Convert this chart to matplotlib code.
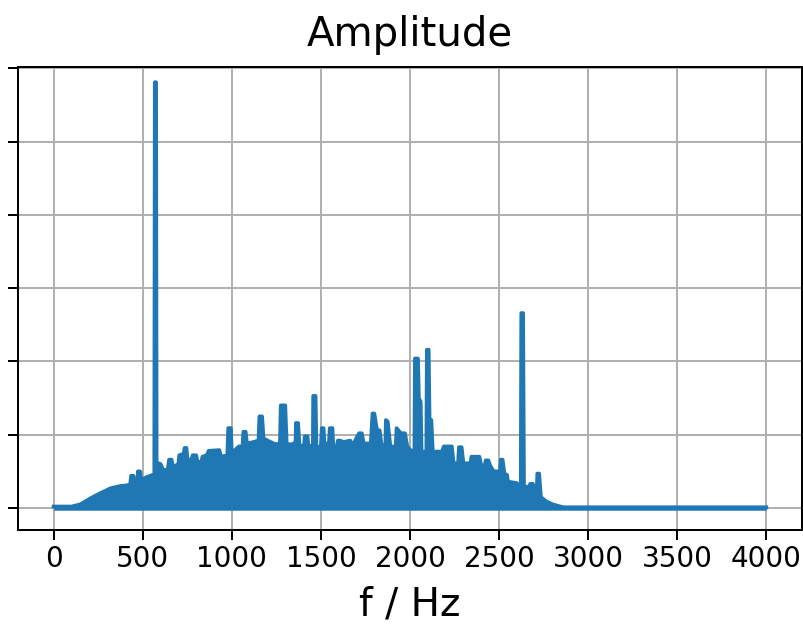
import matplotlib
matplotlib.use("Agg")
import matplotlib.pyplot as plt

# spectrum: frequency (Hz) and amplitude (grid units)
freq = [0, 100, 150, 205, 260, 320, 375, 415, 430, 435, 448, 455, 470, 473,
        485, 492, 520, 555, 565, 568, 575, 578, 600, 615, 640, 648, 662, 670,
        700, 705, 730, 735, 745, 752, 775, 780, 800, 808, 830, 835, 860, 870,
        930, 940, 975, 980, 995, 1000, 1040, 1060, 1065, 1078, 1085, 1120,
        1150, 1155, 1170, 1178, 1210, 1245, 1270, 1275, 1300, 1308, 1340,
        1358, 1360, 1372, 1380, 1405, 1410, 1425, 1430, 1455, 1457, 1470,
        1475, 1500, 1505, 1515, 1520, 1545, 1550, 1565, 1570, 1590, 1595,
        1610, 1625, 1665, 1680, 1700, 1715, 1730, 1740, 1780, 1790, 1800,
        1815, 1830, 1840, 1862, 1865, 1875, 1890, 1920, 1925, 1935, 1950,
        1972, 1985, 2010, 2025, 2028, 2045, 2050, 2060, 2065, 2092, 2095,
        2105, 2110, 2120, 2128, 2180, 2190, 2235, 2245, 2270, 2275, 2290,
        2300, 2340, 2345, 2390, 2400, 2420, 2425, 2440, 2450, 2470, 2505,
        2510, 2520, 2530, 2545, 2550, 2600, 2610, 2622, 2625, 2635, 2640,
        2670, 2675, 2690, 2700, 2712, 2715, 2725, 2735, 2765, 2800, 2860,
        4000]
amp = [0.02, 0.02, 0.05, 0.13, 0.20, 0.27, 0.30, 0.31, 0.33, 0.44, 0.44,
       0.34, 0.36, 0.50, 0.50, 0.38, 0.42, 0.45, 0.46, 5.81, 5.81, 0.62,
       0.60, 0.52, 0.52, 0.66, 0.66, 0.56, 0.60, 0.72, 0.74, 0.82, 0.82,
       0.66, 0.66, 0.72, 0.72, 0.63, 0.63, 0.70, 0.72, 0.78, 0.79, 0.70,
       0.72, 1.09, 1.09, 0.75, 0.84, 0.84, 1.04, 1.04, 0.88, 0.90, 0.92,
       1.25, 1.25, 0.95, 0.91, 0.87, 0.88, 1.40, 1.40, 0.87, 0.87, 0.90,
       1.16, 1.16, 0.85, 0.85, 0.98, 0.98, 0.85, 0.85, 1.53, 1.53, 0.81,
       0.85, 1.09, 1.09, 0.88, 0.88, 1.09, 1.09, 0.81, 0.85, 0.92, 0.92,
       0.90, 0.92, 0.85, 0.96, 1.02, 1.02, 0.88, 0.88, 1.29, 1.29, 1.06,
       1.06, 0.86, 0.86, 1.20, 1.18, 0.84, 0.84, 1.09, 1.06, 1.02, 1.02,
       0.84, 0.77, 0.80, 2.04, 2.04, 1.50, 1.45, 0.77, 0.77, 2.16, 2.16,
       1.20, 1.20, 0.77, 0.77, 0.84, 0.84, 0.61, 0.61, 0.83, 0.83, 0.61,
       0.61, 0.70, 0.70, 0.58, 0.58, 0.65, 0.65, 0.58, 0.50, 0.50, 0.66,
       0.66, 0.47, 0.45, 0.36, 0.34, 0.29, 0.29, 2.66, 2.66, 0.29, 0.29,
       0.33, 0.33, 0.26, 0.26, 0.47, 0.47, 0.15, 0.09, 0.05, 0.01, 0.01]
xticks = [0, 500, 1000, 1500, 2000, 2500, 3000, 3500, 4000]

s = 1.8  # the reference looks like a high dpi export
fig = plt.figure(figsize=(8.04, 6.25), dpi=100)
ax = fig.add_axes([0.0224, 0.152, 0.975, 0.741])
ax.set_axisbelow(True)

# the dense band sits a little below zero, like the oscillating line does
ax.fill_between(freq, -0.03, amp, color="C0", lw=0)
ax.plot(freq, amp, color="C0", lw=1.5 * s, solid_capstyle="projecting")

ax.set_xlim(-200, 4200)
ax.set_ylim(-0.30, 6.02)
ax.set_xticks(xticks)
ax.set_yticks(range(7))
ax.set_yticklabels([])
ax.grid(True, lw=0.8 * s, color="#b0b0b0")
ax.tick_params(labelsize=20, length=7, width=0.8 * s)
for sp in ax.spines.values():
    sp.set_linewidth(0.8 * s)

ax.set_title("Amplitude", fontsize=29, pad=15)
ax.set_xlabel("f / Hz", fontsize=28, labelpad=9)

fig.savefig("out.png", dpi=100)
